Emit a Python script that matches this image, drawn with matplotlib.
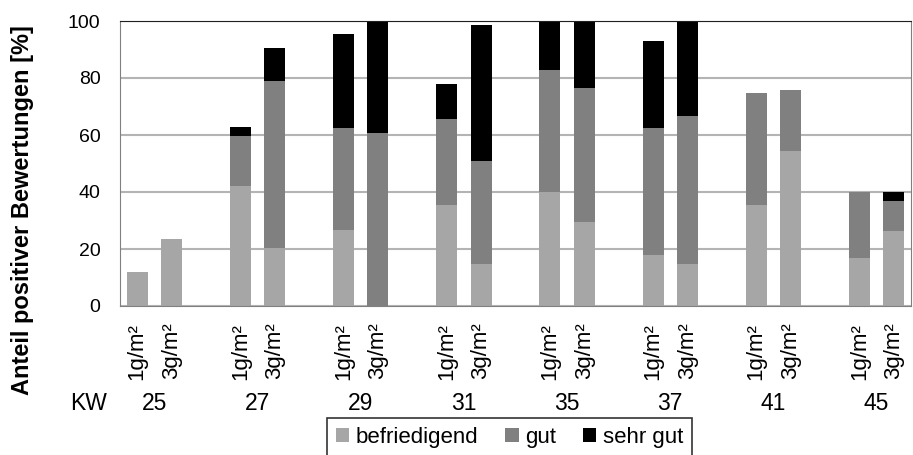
import numpy as np
import matplotlib
matplotlib.use("Agg")
import matplotlib.pyplot as plt
import matplotlib.transforms as mtransforms
from matplotlib.patches import Patch

plt.rcParams['font.family'] = ['Liberation Sans', 'DejaVu Sans']

## Data ##
weeks = ['25', '27', '29', '31', '35', '37', '41', '45']
doses = ['1g/m²', '3g/m²']
# per week: [1g, 3g]
befriedigend = [12, 23.5, 42, 20.5, 26.5, 0, 35.5, 14.7, 40, 29.6, 18, 14.7, 35.4, 54.4, 17, 26.4]
gut = [0, 0, 17.5, 58.6, 36.1, 60.8, 30.2, 36.2, 42.8, 46.9, 44.6, 52, 39.3, 21.4, 23, 10.4]
sehr_gut = [0, 0, 3.2, 11.4, 32.8, 39.2, 12.2, 47.7, 17.2, 23.5, 30.4, 33.3, 0, 0, 0, 3.2]

colors = ['#a6a6a6', '#808080', '#000000']
names = ['befriedigend', 'gut', 'sehr gut']

## Positions: 2 bars per week, one empty slot between weeks ##
xpos = []
for g in range(len(weeks)):
    xpos += [3 * g, 3 * g + 1]
xpos = np.array(xpos)
b1 = np.array(befriedigend)
b2 = np.array(gut)
b3 = np.array(sehr_gut)

fig = plt.figure(figsize=(9.13, 4.55), dpi=100)
ax = fig.add_axes([120 / 913, 1 - 306 / 455, 791 / 913, 285 / 455])

w = 0.61
ax.bar(xpos, b1, w, color=colors[0], zorder=2)
ax.bar(xpos, b2, w, bottom=b1, color=colors[1], zorder=2)
ax.bar(xpos, b3, w, bottom=b1 + b2, color=colors[2], zorder=2)

ax.set_xlim(-0.5, 3 * len(weeks) - 1.5)
ax.set_ylim(0, 100)
ax.set_yticks([0, 20, 40, 60, 80, 100])
ax.yaxis.grid(True, color='#b4b4b4', linewidth=1.5, zorder=0)
ax.set_axisbelow(True)
ax.tick_params(axis='y', length=0, pad=14, labelsize=14)
ax.set_xticks(xpos)
ax.set_xticklabels(doses * len(weeks), rotation=90, fontsize=16)
ax.tick_params(axis='x', length=0, pad=12)
for s in ['left', 'bottom', 'right']:
    ax.spines[s].set_color('#808080')
ax.spines['top'].set_color('#202020')

## KW row ##
trans = mtransforms.blended_transform_factory(ax.transData, fig.transFigure)
fig.text(89 / 913, 1 - 404 / 455, 'KW', ha='center', va='center', fontsize=16.5)
for g, wk in enumerate(weeks):
    ax.text(3 * g + 0.5, 1 - 404 / 455, wk, transform=trans, ha='center', va='center', fontsize=16.5)

fig.text(23 / 913, 1 - 210 / 455, 'Anteil positiver Bewertungen [%]', rotation=90,
         ha='center', va='center', fontsize=17, fontweight='bold')

handles = [Patch(facecolor=c, edgecolor='none') for c in colors]
leg = fig.legend(handles, names, loc='upper left', bbox_to_anchor=(327 / 913, 1 - 418 / 455),
                 ncol=3, fontsize=16, frameon=True, fancybox=False, borderaxespad=0,
                 handlelength=0.6, handleheight=0.6, handletextpad=0.3, columnspacing=1.2,
                 borderpad=0.4)
leg.get_frame().set_edgecolor('black')
leg.get_frame().set_linewidth(1.2)

fig.savefig('out.png', dpi=100)
